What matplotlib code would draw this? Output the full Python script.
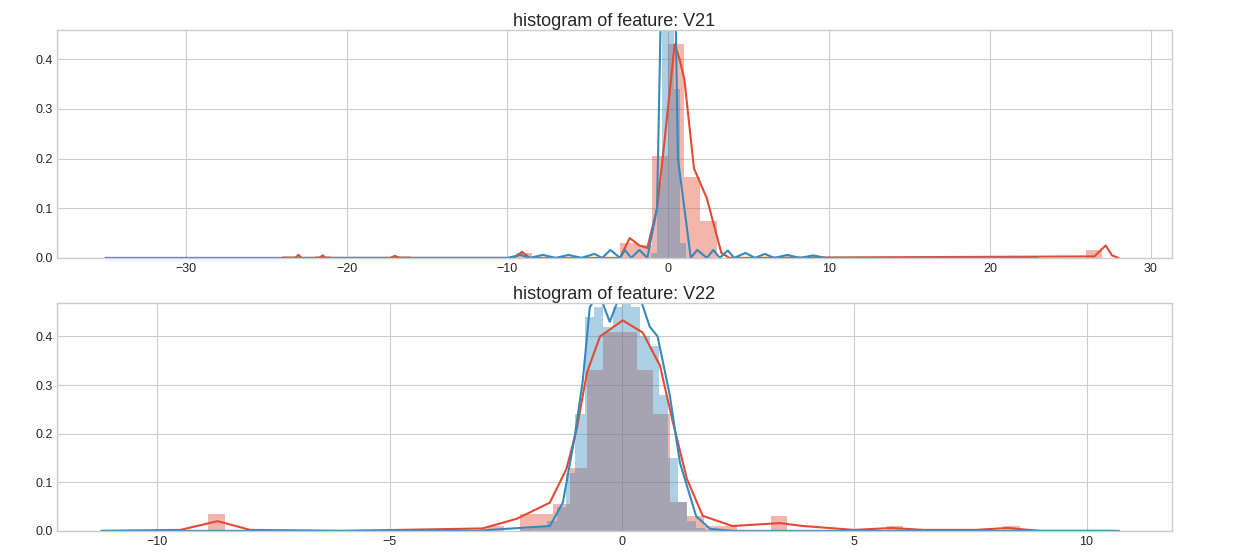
import matplotlib
matplotlib.use('Agg')
import matplotlib.pyplot as plt

plt.style.use('seaborn-v0_8-whitegrid')
RED = '#E24A33'
BLUE = '#348ABD'

# ---- V21 ----
v21_red_left = [-24, -22, -17, -9.5, -3, -2, -1, 0, 1, 2, 26]
v21_red_h = [0.003, 0.003, 0.003, 0.01, 0.03, 0.025, 0.205, 0.43, 0.163, 0.074, 0.015]
v21_red_w = 1.0
v21_blue_left = [-1.1, -0.73, -0.37, 0.0, 0.37, 0.73]
v21_blue_h = [0.01, 0.15, 0.6, 0.6, 0.34, 0.03]
v21_blue_w = 0.37
v21_red_kx = [-24, -23.2, -23, -22.8, -21.7, -21.5, -21.3, -17.3, -17, -16.7, -9.6, -9.1, -8.6,
              -3.0, -2.4, -1.8, -1.3, -0.7, -0.35, 0.4, 0.7, 1.0, 1.6, 2.4, 3.3, 3.8, 26.5, 27.2, 27.6, 28]
v21_red_ky = [0, 0, 0.006, 0, 0, 0.005, 0, 0, 0.004, 0, 0, 0.012, 0,
              0, 0.04, 0.025, 0.02, 0.1, 0.2, 0.43, 0.4, 0.36, 0.18, 0.12, 0.01, 0, 0.003, 0.025, 0.005, 0]
v21_blue_kx = [-35, -10, -9.2, -8.6, -7.8, -7.0, -6.2, -5.4, -4.6, -4.1, -3.6, -3.0, -2.7, -2.3, -1.8,
               -1.3, -0.7, -0.4, 0.0, 0.4, 0.6, 1.4, 1.8, 2.4, 2.8, 3.2, 3.7, 4.1, 4.8, 5.4, 6.0, 6.6,
               7.4, 8.2, 9.0, 9.8, 10.6, 23]
v21_blue_ky = [0, 0, 0.006, 0, 0.006, 0, 0.006, 0, 0.008, 0, 0.016, 0, 0.016, 0, 0.016,
               0, 0.1, 0.6, 0.9, 0.6, 0.2, 0, 0.016, 0, 0.016, 0, 0.015, 0, 0.01, 0, 0.008, 0,
               0.006, 0, 0.005, 0, 0, 0]

# ---- V22 ----
v22_red_left = [-8.9, -2.9, -2.2, -1.84, -1.48, -1.12, -0.76, -0.4, -0.04, 0.32, 0.68, 1.04,
                1.4, 1.76, 2.12, 3.2, 5.7, 8.2]
v22_red_h = [0.035, 0.01, 0.035, 0.035, 0.055, 0.13, 0.33, 0.41, 0.41, 0.33, 0.24, 0.06,
             0.03, 0.01, 0.01, 0.03, 0.01, 0.01]
v22_red_w = 0.36
v22_blue_left = [-2.2, -2.0, -1.8, -1.6, -1.4, -1.2, -1.0, -0.8, -0.6, -0.4, -0.2, 0.0,
                 0.2, 0.4, 0.6, 0.8, 1.0, 1.2, 1.4, 1.6, 1.8]
v22_blue_h = [0.003, 0.005, 0.01, 0.02, 0.05, 0.12, 0.24, 0.44, 0.46, 0.42, 0.46, 0.47,
              0.46, 0.40, 0.38, 0.28, 0.15, 0.06, 0.02, 0.005, 0.002]
v22_blue_w = 0.2
v22_red_kx = [-11.2, -9.5, -8.7, -8.0, -6, -3.0, -2.26, -1.55, -1.19, -0.97, -0.75, -0.47, 0.02,
              0.45, 0.82, 1.1, 1.4, 1.74, 2.38, 3.4, 3.9, 5.0, 5.8, 6.5, 7.6, 8.3, 9.0, 10.6]
v22_red_ky = [0, 0.002, 0.02, 0.002, 0, 0.005, 0.025, 0.058, 0.128, 0.21, 0.326, 0.40, 0.433,
              0.408, 0.34, 0.223, 0.107, 0.031, 0.01, 0.016, 0.01, 0.002, 0.006, 0.002, 0.002, 0.006, 0, 0]
v22_blue_kx = [-11.2, -3.16, -1.55, -1.27, -1.01, -0.84, -0.69, -0.5, -0.26, 0.02, 0.2, 0.39,
               0.6, 0.77, 1.03, 1.25, 1.6, 1.9, 2.4, 10.7]
v22_blue_ky = [0, 0, 0.01, 0.058, 0.196, 0.31, 0.46, 0.49, 0.43, 0.5, 0.5, 0.48,
               0.42, 0.40, 0.28, 0.14, 0.03, 0.004, 0, 0]

fig, axes = plt.subplots(2, 1, figsize=(12.45, 5.53), dpi=100)
panels = [
    ('V21', v21_red_left, v21_red_h, v21_red_w, v21_blue_left, v21_blue_h, v21_blue_w,
     v21_red_kx, v21_red_ky, v21_blue_kx, v21_blue_ky, (-38.0, 31.3), 0.458),
    ('V22', v22_red_left, v22_red_h, v22_red_w, v22_blue_left, v22_blue_h, v22_blue_w,
     v22_red_kx, v22_red_ky, v22_blue_kx, v22_blue_ky, (-12.15, 11.83), 0.468),
]
for ax, p in zip(axes, panels):
    name, rl, rh, rw, bl, bh, bw, rkx, rky, bkx, bky, xl, ytop = p
    ax.bar(rl, rh, width=rw, align='edge', color=RED, alpha=0.4, linewidth=0)
    ax.plot(rkx, rky, color=RED, lw=1.5)
    ax.bar(bl, bh, width=bw, align='edge', color=BLUE, alpha=0.4, linewidth=0)
    ax.plot(bkx, bky, color=BLUE, lw=1.5)
    ax.set_xlim(*xl)
    ax.set_ylim(0, ytop)
    ax.set_yticks([0, 0.1, 0.2, 0.3, 0.4])
    ax.set_title('histogram of feature: ' + name, fontsize=13, pad=3)
    ax.tick_params(labelsize=9)
    for s in ax.spines.values():
        s.set_visible(True)
        s.set_color('#cccccc')

plt.subplots_adjust(left=0.046, right=0.941, top=0.945, bottom=0.04, hspace=0.20)
fig.savefig('out.png', dpi=100)
